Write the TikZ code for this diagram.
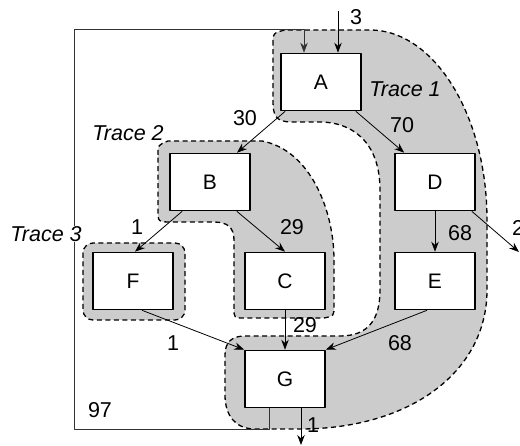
\documentclass[tikz,border=0pt]{standalone}
\usepackage{fontspec}
\setmainfont{Liberation Sans}
\usepackage{tikz}
\usetikzlibrary{arrows.meta}
\definecolor{traceg}{HTML}{CCCCCC}
\tikzset{
  every picture/.style={line join=round, >={Stealth[length=10pt,width=7.5pt]}},
  stage/.style={draw, line width=1.6pt, fill=white, minimum width=80pt, minimum height=57pt, inner sep=0pt, font=\fontsize{21}{25}\selectfont},
  trace/.style={draw, fill=traceg, line width=1.3pt, dash pattern=on 5pt off 3.5pt},
  flow/.style={->, line width=0.8pt},
  wt/.style={font=\fontsize{21.5}{25}\selectfont, inner sep=1pt},
  tname/.style={font=\fontsize{21.5}{25}\selectfont\itshape, inner sep=0.5pt},
}

\begin{document}
\begin{tikzpicture}[x=1pt,y=-1pt]
\useasboundingbox (0,0) rectangle (520,446);
% shaded traces
\path[trace] (273,45) .. controls (273,33) .. (285,30) -- (370,30)
  .. controls (434,30) and (487,115) .. (487,220) -- (487,290)
  .. controls (487,372) and (410,429) .. (300,429) -- (255,429)
  .. controls (235,429) and (225,415) .. (225,395) -- (225,355)
  .. controls (225,342) and (232,336) .. (245,336) -- (340,336)
  .. controls (368,336) and (380,320) .. (380,290) -- (380,190)
  .. controls (380,140) and (350,122) .. (320,122) -- (292,122)
  .. controls (275,122) and (273,115) .. (273,100) -- cycle;
\path[trace] (158,155) .. controls (158,145) .. (168,141) -- (262,141)
  .. controls (310,150) and (334,210) .. (334,260) -- (334,306)
  .. controls (334,316) .. (324,318) -- (244,318)
  .. controls (234,318) .. (234,308) -- (234,240)
  .. controls (234,228) and (228,222) .. (214,222) -- (172,222)
  .. controls (158,222) .. (158,210) -- cycle;
\path[trace, rounded corners=10pt] (83,243) rectangle (185,320);

\coordinate (in) at (338,11);
\coordinate (Dout) at (519,252);
\coordinate (Gout) at (301,445);
\coordinate (loopbl) at (74,429);
\coordinate (looptl) at (74,29);

\node[stage] (A) at (321,82) {A};
\node[stage] (B) at (210,182) {B};
\node[stage] (D) at (435,182) {D};
\node[stage] (F) at (133,281) {F};
\node[stage] (C) at (285,281) {C};
\node[stage] (E) at (435,281) {E};
\node[stage] (G) at (285,379) {G};

% loop back from G to A
\draw[flow, black!80] ([xshift=-16]G.south) |- (loopbl) -- (looptl) -| ([xshift=-17]A.north);

\node[tname] (t1) at (405,89) {Trace 1};
\node[tname] (t2) at (128,133) {Trace 2};
\node[tname, fill=white] (t3) at (46,234) {Trace 3};

\draw[flow] (in) -- ([xshift=17]A.north);
\draw[flow] ([xshift=5]A.south west) -- ([xshift=27]B.north);
\draw[flow] ([xshift=-6]A.south east) -- ([xshift=10]D.north west);
\draw[flow] ([xshift=13]B.south west) -- ([xshift=2]F.north);
\draw[flow] ([xshift=-14]B.south east) -- (C.north);
\draw[flow] (D.south) -- (E.north);
\draw[flow] ([xshift=-4]D.south east) -- (Dout);
\draw[flow] (C.south) -- (G.north);
\draw[flow] ([xshift=9]F.south) -- (G.north west);
\draw[flow] ([xshift=-8]E.south) -- (G.north east);
\draw[flow] ([xshift=16]G.south) -- (Gout);

\node[wt] (w3) at (356,17) {3};
\node[wt] (w30) at (245,118) {30};
\node[wt] (w70) at (402,125) {70};
\node[wt] (wbf) at (137,227) {1};
\node[wt] (wbc) at (292,227) {29};
\node[wt] (wde) at (460,233) {68};
\node[wt] (wd) at (518,228) {2};
\node[wt] (wfg) at (173,343) {1};
\node[wt] (wcg) at (305,325) {29};
\node[wt] (weg) at (400,343) {68};
\node[wt] (wg) at (313,425) {1};
\node[wt] (w97) at (100,410) {97};
\end{tikzpicture}
\end{document}
